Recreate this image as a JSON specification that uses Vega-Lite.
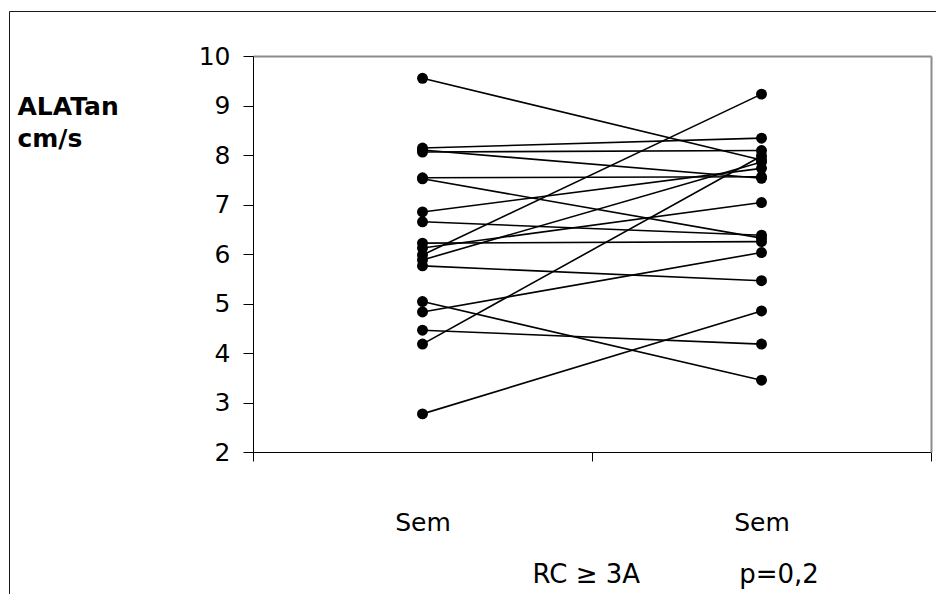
{
  "$schema": "https://vega.github.io/schema/vega-lite/v6.json",
  "autosize": {"type": "none"},
  "padding": {"left": 9, "top": 11, "right": 0, "bottom": 0},
  "width": 927,
  "height": 583,
  "config": {
    "view": {"stroke": null},
    "font": "DejaVu Sans",
    "axis": {"grid": false, "labelColor": "#000000", "titleColor": "#000000", "domainColor": "#000000", "tickColor": "#000000", "labelFont": "DejaVu Sans", "titleFont": "DejaVu Sans"}
  },
  "data": {
    "values": [
      {"id": 1, "week": "Sem 1", "value": 9.55}, {"id": 1, "week": "Sem 2", "value": 7.9},
      {"id": 2, "week": "Sem 1", "value": 8.14}, {"id": 2, "week": "Sem 2", "value": 8.34},
      {"id": 3, "week": "Sem 1", "value": 8.06}, {"id": 3, "week": "Sem 2", "value": 8.09},
      {"id": 4, "week": "Sem 1", "value": 8.1}, {"id": 4, "week": "Sem 2", "value": 7.53},
      {"id": 5, "week": "Sem 1", "value": 7.54}, {"id": 5, "week": "Sem 2", "value": 7.56},
      {"id": 6, "week": "Sem 1", "value": 7.52}, {"id": 6, "week": "Sem 2", "value": 6.32},
      {"id": 7, "week": "Sem 1", "value": 6.85}, {"id": 7, "week": "Sem 2", "value": 7.73},
      {"id": 8, "week": "Sem 1", "value": 6.65}, {"id": 8, "week": "Sem 2", "value": 6.38},
      {"id": 9, "week": "Sem 1", "value": 6.22}, {"id": 9, "week": "Sem 2", "value": 6.25},
      {"id": 10, "week": "Sem 1", "value": 6.12}, {"id": 10, "week": "Sem 2", "value": 7.04},
      {"id": 11, "week": "Sem 1", "value": 5.98}, {"id": 11, "week": "Sem 2", "value": 9.23},
      {"id": 12, "week": "Sem 1", "value": 5.88}, {"id": 12, "week": "Sem 2", "value": 7.86},
      {"id": 13, "week": "Sem 1", "value": 5.76}, {"id": 13, "week": "Sem 2", "value": 5.46},
      {"id": 14, "week": "Sem 1", "value": 5.04}, {"id": 14, "week": "Sem 2", "value": 3.45},
      {"id": 15, "week": "Sem 1", "value": 4.83}, {"id": 15, "week": "Sem 2", "value": 6.03},
      {"id": 16, "week": "Sem 1", "value": 4.46}, {"id": 16, "week": "Sem 2", "value": 4.18},
      {"id": 17, "week": "Sem 1", "value": 4.18}, {"id": 17, "week": "Sem 2", "value": 7.98},
      {"id": 18, "week": "Sem 1", "value": 2.77}, {"id": 18, "week": "Sem 2", "value": 4.85}
    ]
  },
  "layer": [
    {
      "mark": {"type": "point", "opacity": 0},
      "encoding": {
        "x": {
          "field": "week", "type": "nominal",
          "scale": {"type": "band", "domain": ["Sem 1", "Sem 2"], "range": [0, 927], "paddingInner": 0, "paddingOuter": 0},
          "axis": {"orient": "top", "offset": 0, "labels": false, "ticks": false, "title": null, "domainColor": "#1a1a1a", "domainWidth": 1}
        },
        "y": {
          "field": "value", "type": "quantitative",
          "scale": {"domain": [2, 10], "range": [583, 0], "zero": false, "nice": false},
          "axis": {"orient": "left", "offset": 0, "labels": false, "ticks": false, "title": null, "domainColor": "#1a1a1a", "domainWidth": 1}
        }
      }
    },
    {
      "mark": {"type": "line", "color": "#000000", "strokeWidth": 1.6},
      "encoding": {
        "x": {
          "field": "week", "type": "nominal",
          "scale": {"type": "band", "domain": ["Sem 1", "Sem 2"], "range": [244, 922], "paddingInner": 0, "paddingOuter": 0},
          "axis": {
            "orient": "bottom", "offset": -142, "tickBand": "extent",
            "labelExpr": "datum.label === '' ? '' : 'Sem'", "labelAngle": 0,
            "labelFontSize": 25, "labelPadding": 49, "tickSize": 9, "domainWidth": 1, "tickWidth": 1,
            "title": "RC ≥ 3A\u00a0\u00a0\u00a0\u00a0\u00a0\u00a0\u00a0\u00a0\u00a0\u00a0\u00a0\u00a0p=0,2",
            "titleFontSize": 26, "titleFontWeight": "normal", "titleAlign": "left", "titleAnchor": "start",
            "titleBaseline": "top", "titleX": 523, "titleY": 109
          }
        },
        "y": {
          "field": "value", "type": "quantitative",
          "scale": {"domain": [2, 10], "range": [441, 45], "zero": false, "nice": false},
          "axis": {
            "orient": "left", "offset": -244, "values": [2, 3, 4, 5, 6, 7, 8, 9, 10],
            "labelFontSize": 25, "labelPadding": 13, "tickSize": 10, "domainWidth": 1, "tickWidth": 1,
            "title": ["ALATan", "cm/s"], "titleAngle": 0, "titleFontSize": 25, "titleFontWeight": "bold",
            "titleAlign": "left", "titleBaseline": "top", "titleX": -236, "titleY": 83, "titleLineHeight": 32
          }
        },
        "detail": {"field": "id", "type": "nominal"}
      }
    },
    {
      "mark": {"type": "point", "filled": true, "color": "#000000", "size": 120, "opacity": 1},
      "encoding": {
        "x": {
          "field": "week", "type": "nominal",
          "scale": {"type": "band", "domain": ["Sem 1", "Sem 2"], "range": [244, 922], "paddingInner": 0, "paddingOuter": 0},
          "axis": {"orient": "top", "offset": -45, "labels": false, "ticks": false, "title": null, "domainColor": "#8c8c8c", "domainWidth": 2}
        },
        "y": {
          "field": "value", "type": "quantitative",
          "scale": {"domain": [2, 10], "range": [441, 45], "zero": false, "nice": false},
          "axis": {"orient": "right", "offset": -5, "labels": false, "ticks": false, "title": null, "domainColor": "#8c8c8c", "domainWidth": 2}
        }
      }
    }
  ],
  "resolve": {
    "scale": {"x": "independent", "y": "independent"},
    "axis": {"x": "independent", "y": "independent"}
  }
}
